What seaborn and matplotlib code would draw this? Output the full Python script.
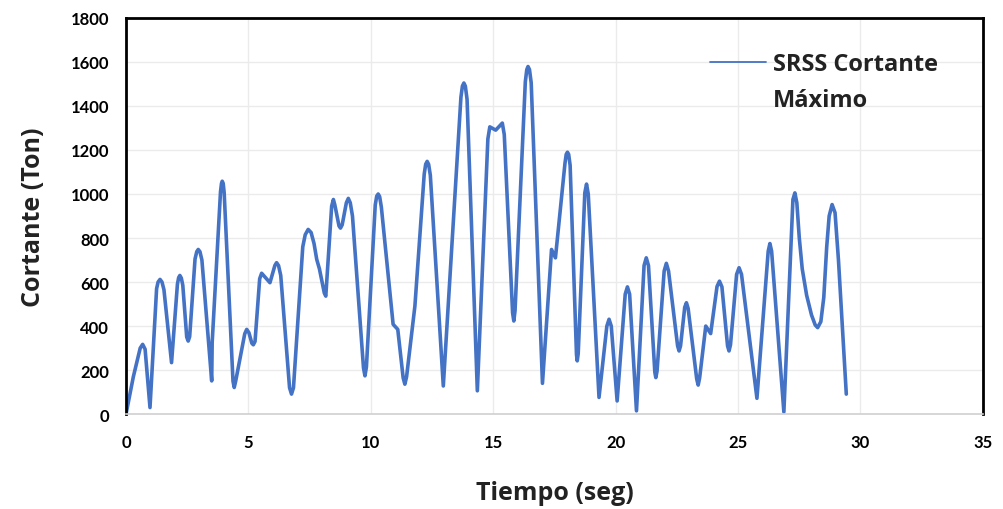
import matplotlib
matplotlib.use("Agg")
import matplotlib.pyplot as plt
import seaborn as sns
import pandas as pd

# SRSS maximum base shear over time (seconds, tonnes)
tiempo = [0.00, 0.30, 0.58, 0.68, 0.78, 0.98,
          1.25, 1.31, 1.39, 1.47, 1.55, 1.86,
          2.10, 2.15, 2.20, 2.26, 2.32, 2.48, 2.54, 2.60,
          2.82, 2.89, 2.95, 3.02, 3.10, 3.50, 3.52,
          3.86, 3.90, 3.93, 3.97, 4.01, 4.37, 4.42, 4.48,
          4.85, 4.93, 5.02, 5.14, 5.20, 5.27,
          5.46, 5.54, 5.62, 5.88, 6.08, 6.15, 6.23, 6.32,
          6.68, 6.76, 6.84, 7.22, 7.32, 7.44, 7.56, 7.68, 7.79, 7.90, 8.10, 8.16,
          8.40, 8.47, 8.53, 8.70, 8.76, 8.83, 9.00, 9.08, 9.16, 9.25,
          9.70, 9.76, 9.82, 10.18, 10.24, 10.30, 10.36, 10.43,
          10.91, 11.10, 11.32, 11.39, 11.46, 11.80,
          12.18, 12.24, 12.30, 12.36, 12.43, 12.96,
          13.68, 13.74, 13.80, 13.86, 13.93, 14.35,
          14.78, 14.86, 15.10, 15.37, 15.45, 15.79, 15.84, 15.89,
          16.31, 16.37, 16.42, 16.48, 16.55, 17.01,
          17.38, 17.54, 17.93, 17.98, 18.03, 18.08, 18.14,
          18.40, 18.43, 18.47, 18.74, 18.81, 18.88, 19.32,
          19.64, 19.73, 19.82, 20.06, 20.39, 20.48, 20.57, 20.85,
          21.16, 21.25, 21.34, 21.60, 21.64, 21.69,
          21.98, 22.07, 22.16, 22.53, 22.59, 22.65,
          22.82, 22.89, 22.96, 23.31, 23.37, 23.43,
          23.68, 23.88, 24.14, 24.24, 24.34, 24.57, 24.63, 24.69,
          24.94, 25.04, 25.14, 25.77, 26.23, 26.30, 26.37, 26.87,
          27.24, 27.32, 27.40, 27.50, 27.62, 27.80, 28.00, 28.15, 28.25,
          28.38, 28.50, 28.62, 28.72, 28.84, 28.96, 29.10, 29.42]
cortante = [0, 170, 300, 317, 295, 30,
            570, 600, 612, 600, 565, 234,
            590, 620, 630, 618, 585, 350, 332, 352,
            705, 738, 748, 738, 700, 151, 326,
            1010, 1048, 1058, 1048, 1005, 150, 121, 150,
            365, 385, 370, 322, 315, 330,
            615, 640, 630, 597, 675, 688, 675, 630,
            120, 91, 120, 760, 815, 839, 825, 775, 703, 660, 550, 536,
            945, 975, 950, 855, 845, 860, 960, 980, 960, 900,
            210, 174, 215, 950, 990, 1000, 988, 940,
            408, 385, 165, 136, 170, 491,
            1090, 1135, 1148, 1135, 1085, 128,
            1440, 1490, 1504, 1490, 1430, 106,
            1250, 1305, 1290, 1322, 1270, 460, 423, 470,
            1510, 1565, 1579, 1565, 1505, 140,
            748, 710, 1140, 1180, 1190, 1180, 1130,
            270, 242, 275, 1005, 1045, 1000, 76,
            400, 431, 400, 60, 545, 578, 545, 15,
            675, 710, 675, 190, 166, 195,
            650, 685, 650, 310, 287, 310,
            485, 506, 480, 160, 132, 165,
            400, 366, 580, 604, 578, 310, 287, 315,
            635, 665, 635, 72, 740, 775, 740, 10,
            975, 1005, 960, 800, 660, 540, 450, 405, 393,
            420, 530, 760, 900, 952, 915, 700, 91]

x_ticks = [0, 5, 10, 15, 20, 25, 30, 35]
y_ticks = [0, 200, 400, 600, 800, 1000, 1200, 1400, 1600, 1800]
serie = "SRSS Cortante"
serie_cont = "Máximo"

df = pd.DataFrame({"Tiempo": tiempo, "Cortante": cortante})

sns.set_theme(style="white")
plt.rcParams["font.family"] = ["Lato", "DejaVu Sans"]
label_font = ["Open Sans", "DejaVu Sans"]

fig = plt.figure(figsize=(10.04, 5.10), dpi=100)
ax = fig.add_axes([0.1255, 0.186, 0.8535, 0.777])

sns.lineplot(data=df, x="Tiempo", y="Cortante", ax=ax, color="#4472C4",
             linewidth=2.6, estimator=None, sort=False, label=serie)
for ln in ax.lines:
    ln.set_solid_joinstyle("round")

ax.set_xlim(0, 35)
ax.set_ylim(0, 1800)
ax.set_xticks(x_ticks)
ax.set_yticks(y_ticks)
ax.set_xticklabels([str(v) for v in x_ticks], fontsize=12, fontweight="bold", color="black")
ax.set_yticklabels([str(v) for v in y_ticks], fontsize=12, fontweight="bold", color="black")
ax.tick_params(axis="both", length=0)
ax.tick_params(axis="x", pad=14)
ax.tick_params(axis="y", pad=12)

ax.grid(True, color="#ebebeb", linewidth=1.0)
ax.set_axisbelow(True)

for side in ["top", "left", "right"]:
    ax.spines[side].set_color("black")
    ax.spines[side].set_linewidth(2.0)
ax.spines["bottom"].set_color("#d0d0d0")
ax.spines["bottom"].set_linewidth(1.2)

ax.set_xlabel("Tiempo (seg)", fontsize=18, fontweight="bold", color="#222222",
              labelpad=22, family=label_font)
ax.set_ylabel("Cortante (Ton)", fontsize=18, fontweight="bold", color="#222222",
              labelpad=18, family=label_font)

# legend: handle sits beside the first line, second line wraps underneath
leg = ax.legend(loc="center left", bbox_to_anchor=(0.681, 0.884), frameon=False,
                borderaxespad=0, borderpad=0,
                handlelength=2.4, handletextpad=0.3,
                prop={"family": label_font, "weight": "bold", "size": 17})
for h in leg.get_lines():
    h.set_linewidth(1.3)
leg_txt = leg.get_texts()[0]
leg_txt.set_color("#222222")

fig.canvas.draw()
bb = leg_txt.get_window_extent().transformed(ax.transAxes.inverted())
ax.text(bb.x0, bb.y0 - 0.062, serie_cont, transform=ax.transAxes,
        ha="left", va="center", fontsize=17, fontweight="bold",
        color="#222222", family=label_font)

fig.savefig("out.png", dpi=100)
